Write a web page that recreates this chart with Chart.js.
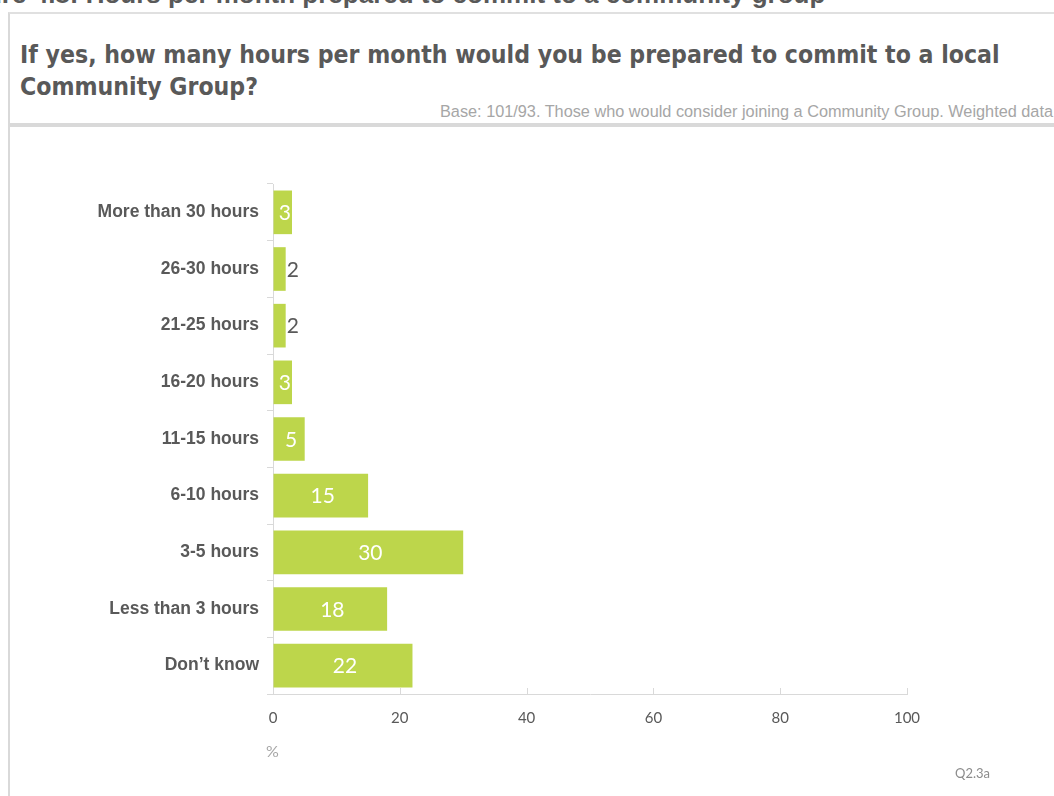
<!DOCTYPE html>
<html>
<head>
<meta charset="utf-8">
<script src="https://cdn.jsdelivr.net/npm/chart.js@4.4.1/dist/chart.umd.min.js"></script>
<style>
  html, body { margin: 0; padding: 0; background: #fff; }
  body { width: 1054px; height: 796px; position: relative; overflow: hidden; }
  .fig-heading {
    position: absolute; left: -53px; top: -21px; white-space: nowrap;
    font: bold 26px "Liberation Sans", Arial, sans-serif; color: #595959;
  }
  .panel {
    position: absolute; left: 8px; top: 12px; width: 1060px; height: 800px;
    border-left: 2px solid #d9d9d9; border-top: 2px solid #e0e0e0; background: #fff;
  }
  .title {
    position: absolute; left: 20px; top: 39px;
    font: bold 24.6px "DejaVu Sans Condensed", "DejaVu Sans", sans-serif;
    line-height: 32px; font-stretch: condensed; color: #595959;
  }
  .base {
    position: absolute; right: 1px; top: 102px; white-space: nowrap;
    font: 16.3px "Liberation Sans", Arial, sans-serif; color: #a6a6a6;
  }
  .rule { position: absolute; left: 10px; top: 123px; width: 1044px; height: 4px; background: #d9d9d9; }
  #chart { position: absolute; left: 0; top: 130px; }
  .pct { position: absolute; left: 266px; top: 741px; font: 16px Lato, sans-serif; color: #a6a6a6; }
  .qref { position: absolute; left: 955px; top: 765px; font: 13px Lato, sans-serif; color: #8c8c8c; }
</style>
</head>
<body>
<div class="fig-heading">Figure 4.8: Hours per month prepared to commit to a community group</div>
<div class="panel"></div>
<div class="title">If yes, how many hours per month would you be prepared to commit to a local<br>Community Group?</div>
<div class="base">Base: 101/93. Those who would consider joining a Community Group. Weighted data</div>
<div class="rule"></div>
<canvas id="chart" width="1054" height="666"></canvas>
<div class="pct">%</div>
<div class="qref">Q2.3a</div>

<script>
const categories = [
  'More than 30 hours', '26-30 hours', '21-25 hours', '16-20 hours', '11-15 hours',
  '6-10 hours', '3-5 hours', 'Less than 3 hours', 'Don\u2019t know'
]
const percentages = [3, 2, 2, 3, 5, 15, 30, 18, 22]
const xTickValues = [0, 20, 40, 60, 80, 100]

const barColor = '#bdd64b'
const axisColor = '#d9d9d9'
const textColor = '#595959'

// value labels: white inside the bar, grey just past the end for the short ones
const barLabels = {
  id: 'barLabels',
  afterDatasetsDraw(chart) {
    const ctx = chart.ctx
    const meta = chart.getDatasetMeta(0)
    ctx.save()
    ctx.font = '21px Lato, sans-serif'
    ctx.textBaseline = 'middle'
    meta.data.forEach((bar, i) => {
      const v = percentages[i]
      if (v >= 3) {
        ctx.fillStyle = '#ffffff'
        ctx.textAlign = 'center'
        ctx.fillText(v, (bar.base + bar.x) / 2 + 2, bar.y + 1)
      } else {
        ctx.fillStyle = textColor
        ctx.textAlign = 'left'
        ctx.fillText(v, bar.x + 1, bar.y + 1)
      }
    })
    ctx.restore()
  }
}

// small upward tick marks on the value axis
const xTickMarks = {
  id: 'xTickMarks',
  afterDraw(chart) {
    const ctx = chart.ctx
    const x = chart.scales.x
    const bottom = chart.chartArea.bottom
    ctx.save()
    ctx.strokeStyle = axisColor
    ctx.lineWidth = 1
    xTickValues.forEach(v => {
      const px = Math.round(x.getPixelForValue(v)) + 0.5
      ctx.beginPath()
      ctx.moveTo(px, bottom - 6)
      ctx.lineTo(px, bottom)
      ctx.stroke()
    })
    ctx.restore()
  }
}

new Chart(document.getElementById('chart').getContext('2d'), {
  type: 'bar',
  data: {
    labels: categories,
    datasets: [{
      data: percentages,
      backgroundColor: barColor,
      borderWidth: 0,
      barPercentage: 0.77,
      categoryPercentage: 1
    }]
  },
  plugins: [barLabels, xTickMarks],
  options: {
    indexAxis: 'y',
    responsive: false,
    animation: false,
    layout: { padding: { top: 54, right: 147, bottom: 0, left: 0 } },
    plugins: {
      legend: { display: false },
      tooltip: { enabled: false }
    },
    scales: {
      x: {
        min: 0,
        max: 100,
        afterFit: s => { s.height = 102 },
        afterBuildTicks: s => { s.ticks = xTickValues.map(v => ({ value: v })) },
        grid: { drawOnChartArea: false, drawTicks: false },
        border: { color: axisColor },
        ticks: { padding: 15, color: textColor, font: { family: 'Lato', size: 15 } }
      },
      y: {
        afterFit: s => { s.width = 273 },
        grid: { offset: true, drawOnChartArea: false, tickLength: 6, color: axisColor },
        border: { color: axisColor },
        ticks: {
          padding: 8,
          color: textColor,
          font: { family: 'Liberation Sans', size: 17.5, weight: 'bold' }
        }
      }
    }
  }
})
</script>
</body>
</html>
